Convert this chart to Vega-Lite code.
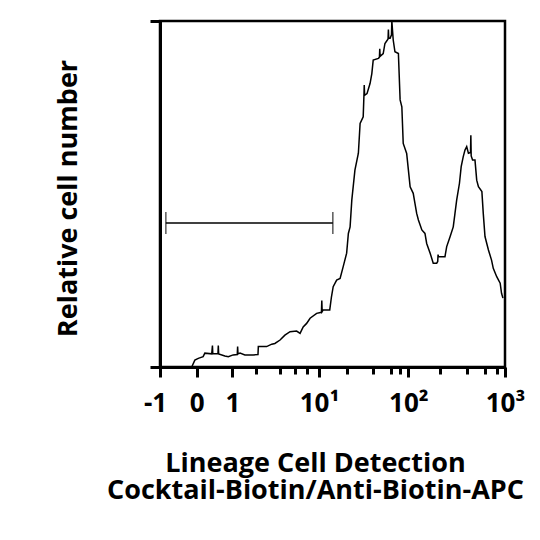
{
  "$schema": "https://vega.github.io/schema/vega-lite/v6.json",
  "width": 345,
  "height": 346,
  "autosize": "none",
  "padding": {"left": 160, "top": 21, "right": 35, "bottom": 173},
  "background": "white",
  "datasets": {
    "hist": [
      {"ch": 92, "n": 0}, {"ch": 101, "n": 2.0}, {"ch": 111, "n": 2.5}, {"ch": 125, "n": 3.0},
      {"ch": 130, "n": 4.0}, {"ch": 150, "n": 3.8}, {"ch": 152, "n": 6.2}, {"ch": 153, "n": 3.8},
      {"ch": 168, "n": 3.8}, {"ch": 169, "n": 6.2}, {"ch": 170, "n": 3.8}, {"ch": 188, "n": 3.2},
      {"ch": 198, "n": 3.0}, {"ch": 212, "n": 3.5}, {"ch": 224, "n": 3.6}, {"ch": 225, "n": 5.9},
      {"ch": 226, "n": 3.8}, {"ch": 232, "n": 4.0}, {"ch": 246, "n": 3.5}, {"ch": 270, "n": 3.5},
      {"ch": 284, "n": 3.6}, {"ch": 285, "n": 5.9}, {"ch": 309, "n": 5.9}, {"ch": 324, "n": 6.6},
      {"ch": 333, "n": 6.8}, {"ch": 348, "n": 7.8}, {"ch": 362, "n": 9.2}, {"ch": 377, "n": 10.2},
      {"ch": 396, "n": 10.4}, {"ch": 406, "n": 9.7}, {"ch": 415, "n": 11.6}, {"ch": 425, "n": 12.6},
      {"ch": 435, "n": 14.1}, {"ch": 454, "n": 15.5}, {"ch": 468, "n": 15.8}, {"ch": 469, "n": 19.2},
      {"ch": 470, "n": 16.0}, {"ch": 473, "n": 16.5}, {"ch": 492, "n": 16.5}, {"ch": 497, "n": 20.3},
      {"ch": 502, "n": 23.2}, {"ch": 512, "n": 25.1}, {"ch": 522, "n": 25.6}, {"ch": 531, "n": 29.0},
      {"ch": 541, "n": 32.9}, {"ch": 546, "n": 38.6}, {"ch": 551, "n": 40.5}, {"ch": 556, "n": 48.3},
      {"ch": 565, "n": 56.9}, {"ch": 575, "n": 61.8}, {"ch": 580, "n": 70.4}, {"ch": 589, "n": 72.3},
      {"ch": 591, "n": 78.1}, {"ch": 592, "n": 81.5}, {"ch": 593, "n": 78.5}, {"ch": 600, "n": 79.0},
      {"ch": 609, "n": 82.0}, {"ch": 614, "n": 84.8}, {"ch": 618, "n": 88.7}, {"ch": 633, "n": 89.2},
      {"ch": 636, "n": 89.5}, {"ch": 637, "n": 92.0}, {"ch": 638, "n": 89.8}, {"ch": 647, "n": 90.6},
      {"ch": 652, "n": 93.5}, {"ch": 659, "n": 94.5}, {"ch": 661, "n": 94.8}, {"ch": 662, "n": 97.5},
      {"ch": 663, "n": 95.0}, {"ch": 667, "n": 95.0}, {"ch": 671, "n": 96.0}, {"ch": 672, "n": 100},
      {"ch": 676, "n": 94.5}, {"ch": 681, "n": 91.1}, {"ch": 691, "n": 90.6}, {"ch": 696, "n": 77.2},
      {"ch": 701, "n": 75.2}, {"ch": 705, "n": 64.6}, {"ch": 715, "n": 61.7}, {"ch": 720, "n": 56.9},
      {"ch": 725, "n": 52.1}, {"ch": 734, "n": 50.2}, {"ch": 739, "n": 47.3}, {"ch": 744, "n": 44.4},
      {"ch": 749, "n": 42.5}, {"ch": 759, "n": 39.6}, {"ch": 768, "n": 38.6}, {"ch": 773, "n": 35.7},
      {"ch": 783, "n": 32.9}, {"ch": 792, "n": 30.0}, {"ch": 802, "n": 30.0}, {"ch": 805, "n": 30.5},
      {"ch": 806, "n": 32.5}, {"ch": 807, "n": 31.9}, {"ch": 812, "n": 31.9}, {"ch": 826, "n": 31.9},
      {"ch": 831, "n": 34.8}, {"ch": 841, "n": 37.7}, {"ch": 850, "n": 40.5}, {"ch": 855, "n": 44.4},
      {"ch": 860, "n": 48.3}, {"ch": 868, "n": 53.1}, {"ch": 873, "n": 57.9}, {"ch": 879, "n": 60.8},
      {"ch": 884, "n": 62.7}, {"ch": 889, "n": 63.7}, {"ch": 894, "n": 61.8}, {"ch": 900, "n": 62.0},
      {"ch": 901, "n": 67.0}, {"ch": 902, "n": 61.0}, {"ch": 906, "n": 59.8}, {"ch": 913, "n": 59.8},
      {"ch": 918, "n": 54.0}, {"ch": 923, "n": 52.1}, {"ch": 933, "n": 50.7}, {"ch": 937, "n": 44.4},
      {"ch": 942, "n": 37.7}, {"ch": 952, "n": 33.8}, {"ch": 961, "n": 30.9}, {"ch": 966, "n": 28.5},
      {"ch": 976, "n": 26.1}, {"ch": 986, "n": 24.2}, {"ch": 990, "n": 21.3}, {"ch": 994, "n": 19.9}
    ],
    "gate": [{"from": 17, "to": 501, "level": 41.6}]
  },
  "resolve": {"axis": {"x": "independent"}},
  "layer": [
    {
      "data": {"name": "hist"},
      "mark": {"type": "line", "color": "black", "strokeWidth": 1.5, "interpolate": "linear"},
      "encoding": {
        "x": {
          "field": "ch", "type": "quantitative",
          "scale": {"domain": [0, 1000], "nice": false, "zero": false},
          "axis": {
            "orient": "bottom",
            "values": [0, 106, 210, 461, 720, 1000],
            "labelExpr": "datum.value == 0 ? '-1' : datum.value == 106 ? '0' : datum.value == 210 ? '1' : datum.value == 461 ? '10¹' : datum.value == 720 ? '10²' : '10³'",
            "labelOffset": {"condition": {"test": "datum.value == 0", "value": -5}, "value": 0},
            "tickSize": 10,
            "tickWidth": 3,
            "tickColor": "black",
            "domainColor": "black",
            "domainWidth": 3,
            "grid": false,
            "labelFont": "Open Sans",
            "labelFontWeight": "bold",
            "labelFontSize": 26,
            "labelColor": "black",
            "labelBaseline": "alphabetic",
            "labelPadding": 34,
            "labelOverlap": false,
            "labelFlush": false,
            "title": ["Lineage Cell Detection", "Cocktail-Biotin/Anti-Biotin-APC"],
            "titleFont": "Open Sans",
            "titleFontWeight": "bold",
            "titleFontSize": 27,
            "titleColor": "black",
            "titleLineHeight": 27,
            "titleAlign": "center",
            "titleBaseline": "alphabetic",
            "titleX": 155,
            "titleY": 104
          }
        },
        "y": {
          "field": "n", "type": "quantitative",
          "scale": {"domain": [0, 100], "nice": false},
          "axis": {
            "values": [0, 100],
            "labels": false,
            "tickSize": 10,
            "tickWidth": 3,
            "tickColor": "black",
            "domainColor": "black",
            "domainWidth": 3,
            "grid": false,
            "title": "Relative cell number",
            "titleFont": "Open Sans",
            "titleFontWeight": "bold",
            "titleFontSize": 27,
            "titleColor": "black",
            "titleAngle": -90,
            "titleAlign": "center",
            "titleBaseline": "alphabetic",
            "titleX": -84,
            "titleY": 177
          }
        }
      }
    },
    {
      "data": {"name": "gate"},
      "mark": {"type": "rule", "color": "black", "strokeWidth": 1.4},
      "encoding": {
        "x": {
          "field": "from", "type": "quantitative",
          "axis": {
            "orient": "bottom",
            "values": [278, 348, 391, 425, 541, 618, 670, 696, 812, 889, 942, 976],
            "labels": false,
            "domain": false,
            "grid": false,
            "tickSize": 7,
            "tickWidth": 3,
            "tickColor": "black",
            "title": null
          }
        },
        "x2": {"field": "to"},
        "y": {"field": "level", "type": "quantitative"}
      }
    },
    {
      "data": {"name": "gate"},
      "transform": [{"fold": ["from", "to"], "as": ["end", "pos"]}],
      "mark": {"type": "tick", "orient": "vertical", "color": "black", "size": 22, "thickness": 1.4},
      "encoding": {
        "x": {"field": "pos", "type": "quantitative", "axis": null},
        "y": {"field": "level", "type": "quantitative"}
      }
    }
  ],
  "config": {
    "view": {"stroke": "black", "strokeWidth": 2.5}
  }
}
